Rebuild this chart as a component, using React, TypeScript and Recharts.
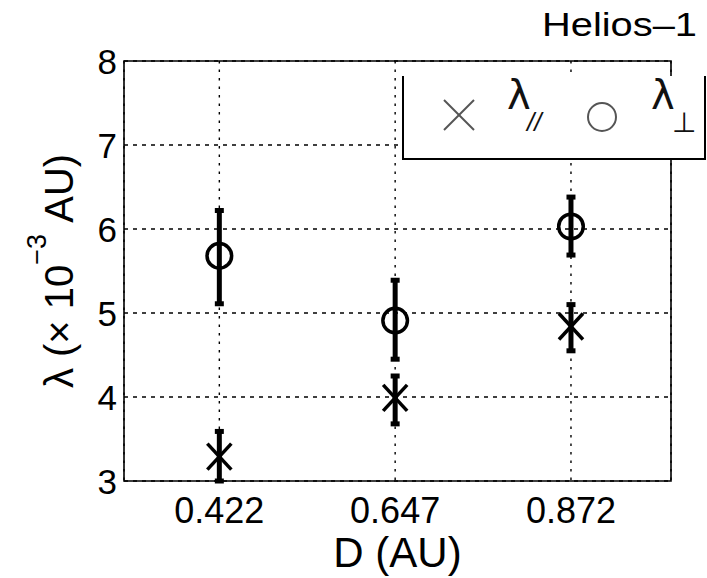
import React from 'react';
import { ScatterChart, Scatter, XAxis, YAxis, CartesianGrid, ErrorBar, ReferenceArea } from 'recharts';

// heliocentric distance of the three Helios-1 samples (AU)
const distances = [0.422, 0.647, 0.872];
// parallel correlation length, in 10^-3 AU, with [down, up] error
const lambdaPar = [3.29, 3.99, 4.84];
const lambdaParErr = [[0.29, 0.3], [0.31, 0.26], [0.29, 0.26]];
// perpendicular correlation length
const lambdaPerp = [5.68, 4.91, 6.03];
const lambdaPerpErr = [[0.57, 0.54], [0.46, 0.48], [0.34, 0.35]];

const yTicks = [3, 4, 5, 6, 7, 8];

const parData = distances.map((d, i) => ({ x: d, y: lambdaPar[i], err: lambdaParErr[i] }));
const perpData = distances.map((d, i) => ({ x: d, y: lambdaPerp[i], err: lambdaPerpErr[i] }));

const FONT = '"Liberation Sans", Arial, Helvetica, sans-serif';

const XTick = ({ x, y, payload }: any) => (
  <text x={x} y={y} dy={42} textAnchor="middle" fontFamily={FONT} fontSize={36} fill="#000">
    {payload.value}
  </text>
);

const YTick = ({ x, y, payload }: any) => (
  <text x={x - 7} y={y} dy={12.5} textAnchor="end" fontFamily={FONT} fontSize={35} fill="#000">
    {payload.value}
  </text>
);

const XLabel = ({ viewBox }: any) => (
  <text
    x={viewBox.x + viewBox.width / 2}
    y={viewBox.y + 86}
    textAnchor="middle"
    fontFamily={FONT}
    fontSize={42}
    fill="#000"
  >
    D (AU)
  </text>
);

const YLabel = ({ viewBox }: any) => {
  const cx = viewBox.x + 73;
  const cy = viewBox.y + viewBox.height / 2;
  return (
    <text
      transform={`translate(${cx},${cy}) rotate(-90)`}
      textAnchor="middle"
      fontFamily={FONT}
      fontSize={40}
      fill="#000"
    >
      <tspan>λ (× 10</tspan>
      <tspan dy={-27} fontSize={27}>−3</tspan>
      <tspan dy={27}> AU)</tspan>
    </text>
  );
};

// × marker; the vertical error bar through it turns it into an asterisk
const CrossMark = ({ cx, cy }: any) => (
  <g stroke="#000" strokeWidth={3.5} strokeLinecap="butt">
    <line x1={cx - 12} y1={cy - 13} x2={cx + 12} y2={cy + 13} />
    <line x1={cx - 12} y1={cy + 13} x2={cx + 12} y2={cy - 13} />
  </g>
);

const CircleMark = ({ cx, cy }: any) => (
  <circle cx={cx} cy={cy} r={12.3} fill="none" stroke="#000" strokeWidth={3.5} />
);

export default function App() {
  return (
    <div style={{ position: 'absolute', left: 0, top: 0, width: 707, height: 578, background: '#fff' }}>
      <ScatterChart width={707} height={578} margin={{ top: 61, right: 36, bottom: 0, left: 0 }}>
        <CartesianGrid vertical={false} stroke="#000" strokeWidth={1.4} strokeDasharray="4 5" />
        <CartesianGrid horizontal={false} stroke="#000" strokeWidth={1.4} strokeDasharray="2.5 6" />
        <XAxis
          type="number"
          dataKey="x"
          domain={[0.3, 1.0]}
          ticks={distances}
          height={97}
          axisLine={false}
          tickLine={false}
          tickSize={0}
          tickMargin={0}
          tick={<XTick />}
          label={{ content: (p: any) => <XLabel {...p} /> }}
        />
        <YAxis
          type="number"
          dataKey="y"
          domain={[3, 8]}
          ticks={yTicks}
          width={124}
          axisLine={false}
          tickLine={false}
          tickSize={0}
          tickMargin={0}
          tick={<YTick />}
          label={{ content: (p: any) => <YLabel {...p} /> }}
        />
        <ReferenceArea x1={0.3} x2={1.0} y1={3} y2={8} fill="none" stroke="#000" strokeWidth={1.6} ifOverflow="visible" />
        <Scatter name="perp" data={perpData} shape={<CircleMark />} isAnimationActive={false}>
          <ErrorBar dataKey="err" direction="y" width={4.5} stroke="#000" strokeWidth={5} isAnimationActive={false} />
        </Scatter>
        <Scatter name="par" data={parData} shape={<CrossMark />} isAnimationActive={false}>
          <ErrorBar dataKey="err" direction="y" width={4.5} stroke="#000" strokeWidth={5} isAnimationActive={false} />
        </Scatter>
      </ScatterChart>
      <svg width={707} height={578} style={{ position: 'absolute', left: 0, top: 0, pointerEvents: 'none' }}>
        <text x={697} y={36} textAnchor="end" fontFamily={FONT} fontSize={33} textLength={155} lengthAdjust="spacingAndGlyphs" fill="#000">
          Helios–1
        </text>
        <rect x={403} y={76} width={302} height={83} fill="#fff" />
        <polyline points="403,76 403,159 705,159 705,76" fill="none" stroke="#000" strokeWidth={2} />
        <g stroke="#555" strokeWidth={2}>
          <line x1={444} y1={100} x2={474} y2={130} />
          <line x1={444} y1={130} x2={474} y2={100} />
        </g>
        <text x={507} y={109} fontFamily="DejaVu Sans" fontSize={40} fill="#111">λ</text>
        <text x={527} y={131} fontFamily={FONT} fontStyle="italic" fontSize={26} fill="#111">//</text>
        <circle cx={602} cy={117} r={14} fill="none" stroke="#555" strokeWidth={2} />
        <text x={651} y={109} fontFamily="DejaVu Sans" fontSize={40} fill="#111">λ</text>
        <text x={672} y={132} fontFamily="DejaVu Sans" fontSize={28} fill="#111">⊥</text>
      </svg>
    </div>
  );
}
